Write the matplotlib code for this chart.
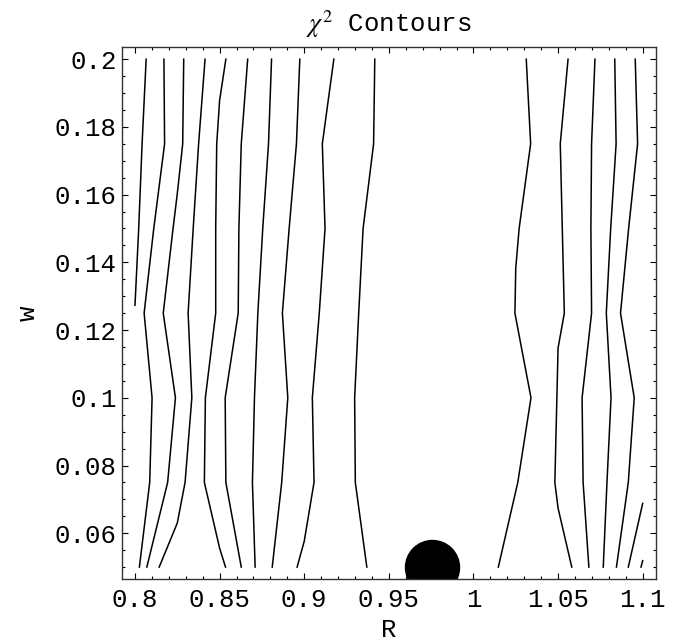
import matplotlib as mpl
mpl.use('Agg')
import matplotlib.pyplot as plt
from matplotlib.ticker import FixedLocator, MultipleLocator, FuncFormatter

plt.rcParams['font.family'] = ['Liberation Mono', 'DejaVu Sans']
plt.rcParams['mathtext.fontset'] = 'stix'

# chi^2 contour lines as (R, w) vertices
w_grid = [0.2, 0.175, 0.15, 0.125, 0.1, 0.075, 0.05]

contours = [
    ([0.8066, 0.8042, 0.8022, 0.8], [0.2, 0.175, 0.15, 0.1273]),
    ([0.8171, 0.8175, 0.8111, 0.8054, 0.8101, 0.8087, 0.8026], w_grid),
    ([0.8288, 0.8282, 0.825, 0.8225, 0.8167, 0.8239, 0.8193, 0.8070],
     [0.2, 0.175, 0.1603, 0.15, 0.125, 0.1, 0.075, 0.05]),
    ([0.8414, 0.8376, 0.8344, 0.8314, 0.8336, 0.8296, 0.825, 0.8143],
     [0.2, 0.175, 0.15, 0.125, 0.1, 0.075, 0.063, 0.05]),
    ([0.8537, 0.85, 0.8483, 0.8477, 0.8477, 0.8416, 0.8410, 0.85, 0.8535],
     [0.2, 0.1878, 0.175, 0.15, 0.125, 0.1, 0.075, 0.0556, 0.05]),
    ([0.8666, 0.8628, 0.8614, 0.8610, 0.8533, 0.8537, 0.8628], w_grid),
    ([0.8807, 0.8789, 0.8755, 0.8726, 0.8706, 0.8694, 0.8710], w_grid),
    ([0.8974, 0.8954, 0.8911, 0.8871, 0.8903, 0.8867, 0.8811], w_grid),
    ([0.9175, 0.9107, 0.9123, 0.9089, 0.9048, 0.9058, 0.9, 0.8958],
     [0.2, 0.175, 0.15, 0.125, 0.1, 0.075, 0.0576, 0.05]),
    ([0.9417, 0.9410, 0.9348, 0.9322, 0.9298, 0.9302, 0.9370], w_grid),
    ([1.0312, 1.0338, 1.0270, 1.025, 1.0245, 1.0340, 1.0262, 1.0147],
     [0.2, 0.175, 0.15, 0.1383, 0.125, 0.1, 0.075, 0.05]),
    ([1.0559, 1.0513, 1.0525, 1.0537, 1.05, 1.0493, 1.0481, 1.05, 1.0581],
     [0.2, 0.175, 0.15, 0.125, 0.1147, 0.1, 0.075, 0.0674, 0.05]),
    ([1.0718, 1.0698, 1.0694, 1.0698, 1.0642, 1.0648, 1.0682], w_grid),
    ([1.0835, 1.0843, 1.0811, 1.0785, 1.0813, 1.0789, 1.0767], w_grid),
    ([1.0956, 1.0970, 1.0917, 1.0869, 1.0950, 1.0915, 1.0845], w_grid),
    ([1.1, 1.0915], [0.0688, 0.05]),
    ([1.1, 1.0990], [0.0519, 0.05]),
]

# best fit point
best_R = 0.9753
best_w = 0.05

x_ticks = [0.8, 0.85, 0.9, 0.95, 1.0, 1.05, 1.1]
y_ticks = [0.06, 0.08, 0.1, 0.12, 0.14, 0.16, 0.18, 0.2]

fig = plt.figure(figsize=(6.79, 6.41), dpi=100)
ax = fig.add_axes([0.1801, 0.0963, 0.7856, 0.8309])

for r, w in contours:
    ax.plot(r, w, color='black', lw=1.1)

ax.plot([best_R], [best_w], 'o', color='black', markersize=38.9, clip_on=True)

ax.set_xlim(0.7925, 1.1077)
ax.set_ylim(0.0464, 0.2037)

fmt = FuncFormatter(lambda v, p: '{:g}'.format(round(v, 4)))
ax.xaxis.set_major_locator(FixedLocator(x_ticks))
ax.yaxis.set_major_locator(FixedLocator(y_ticks))
ax.xaxis.set_minor_locator(MultipleLocator(0.01))
ax.yaxis.set_minor_locator(MultipleLocator(0.005))
ax.xaxis.set_major_formatter(fmt)
ax.yaxis.set_major_formatter(fmt)

ax.tick_params(which='both', direction='in', top=True, right=True, width=0.8, labelsize=18.5)
ax.tick_params(which='major', length=4.3)
ax.tick_params(which='minor', length=2.5)
ax.tick_params(axis='x', pad=6)
ax.tick_params(axis='y', pad=4)

for sp in ax.spines.values():
    sp.set_linewidth(1.0)
    sp.set_color('#333333')

ax.set_title(r'$\chi^2$ Contours', fontsize=18.5, pad=10.8)
ax.set_xlabel('R', fontsize=18.5, labelpad=4.5)
ax.set_ylabel('w', fontsize=18.5, labelpad=11)

fig.savefig('out.png', dpi=100)
